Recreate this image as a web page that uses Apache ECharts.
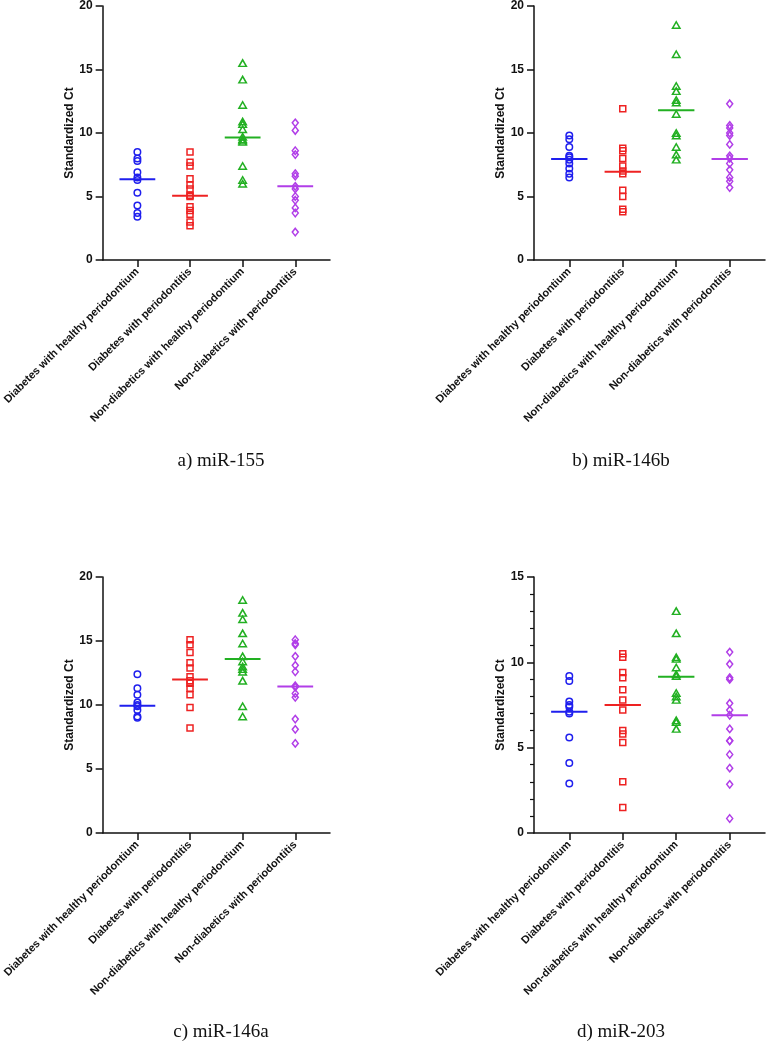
<!DOCTYPE html>
<html>
<head>
<meta charset="utf-8">
<script src="https://cdn.jsdelivr.net/npm/echarts@6/dist/echarts.min.js"></script>
<style>
html,body{margin:0;padding:0;background:#fff;}
#chart{width:767px;height:1044px;}
</style>
</head>
<body>
<div id="chart"></div>
<script>
// Categories
const categories = [
  'Diabetes with healthy periodontium',
  'Diabetes with periodontitis',
  'Non-diabetics with healthy periodontium',
  'Non-diabetics with periodontitis'
];
const panelTitles = ['a) miR-155', 'b) miR-146b', 'c) miR-146a', 'd) miR-203'];
const yTickMax = [20, 20, 20, 15];

// a) miR-155
const a_diabHealthy = [8.5, 8.0, 7.8, 6.9, 6.5, 6.3, 5.3, 4.3, 3.7, 3.4];
const a_diabPerio   = [8.5, 7.7, 7.4, 6.4, 5.9, 5.6, 5.1, 5.0, 4.2, 3.9, 3.6, 3.0, 2.7];
const a_nonHealthy  = [15.5, 14.2, 12.2, 10.9, 10.7, 10.3, 9.7, 9.5, 9.4, 9.3, 7.4, 6.3, 6.0];
const a_nonPerio    = [10.8, 10.2, 8.6, 8.3, 6.8, 6.6, 5.8, 5.6, 5.0, 4.7, 4.1, 3.7, 2.2];
const a_medians     = [6.35, 5.05, 9.65, 5.8];

// b) miR-146b
const b_diabHealthy = [9.8, 9.5, 8.9, 8.2, 8.1, 7.9, 7.6, 7.2, 6.8, 6.5];
const b_diabPerio   = [11.9, 8.8, 8.6, 8.0, 7.4, 7.0, 6.8, 5.5, 5.0, 4.0, 3.8];
const b_nonHealthy  = [18.5, 16.2, 13.7, 13.3, 12.6, 12.4, 11.5, 10.0, 9.8, 8.9, 8.3, 7.9];
const b_nonPerio    = [12.3, 10.6, 10.4, 10.0, 9.8, 9.1, 8.2, 8.0, 7.6, 7.1, 6.5, 6.2, 5.7];
const b_medians     = [7.95, 6.95, 11.8, 7.95];

// c) miR-146a
const c_diabHealthy = [12.4, 11.3, 10.8, 10.2, 10.0, 9.9, 9.6, 9.1, 9.0];
const c_diabPerio   = [15.1, 14.7, 14.1, 13.3, 12.9, 12.2, 11.9, 11.7, 11.3, 10.8, 9.8, 8.2];
const c_nonHealthy  = [18.2, 17.2, 16.7, 15.6, 14.8, 13.8, 13.4, 13.0, 12.8, 12.6, 11.9, 9.9, 9.1];
const c_nonPerio    = [15.1, 14.8, 14.7, 13.8, 13.1, 12.6, 11.5, 11.4, 10.9, 10.6, 8.9, 8.1, 7.0];
const c_medians     = [9.95, 12.0, 13.6, 11.45];

// d) miR-203
const d_diabHealthy = [9.2, 8.9, 7.7, 7.5, 7.4, 7.1, 7.0, 5.6, 4.1, 2.9];
const d_diabPerio   = [10.5, 10.3, 9.4, 9.1, 8.4, 7.8, 7.2, 6.0, 5.8, 5.3, 3.0, 1.5];
const d_nonHealthy  = [13.0, 11.7, 10.3, 10.2, 9.7, 9.3, 9.2, 8.2, 8.0, 7.8, 6.6, 6.5, 6.1];
const d_nonPerio    = [10.6, 9.9, 9.1, 9.0, 7.6, 7.2, 6.9, 6.1, 5.4, 5.4, 4.6, 3.8, 2.85, 0.85];
const d_medians     = [7.1, 7.5, 9.15, 6.9];

const panels = [
  { groups: [a_diabHealthy, a_diabPerio, a_nonHealthy, a_nonPerio], medians: a_medians },
  { groups: [b_diabHealthy, b_diabPerio, b_nonHealthy, b_nonPerio], medians: b_medians },
  { groups: [c_diabHealthy, c_diabPerio, c_nonHealthy, c_nonPerio], medians: c_medians },
  { groups: [d_diabHealthy, d_diabPerio, d_nonHealthy, d_nonPerio], medians: d_medians }
];

const colors = ['#1f1fee', '#ee2222', '#22b022', '#b13ee8'];
const symbols = ['circle', 'rect', 'triangle', 'diamond'];
const symbolSizes = [6.5, 6, [7.5, 6.5], [6, 7.5]];

const gridPos = [
  { left: 99, top: 5, width: 231, height: 255 },
  { left: 534, top: 5, width: 231, height: 255 },
  { left: 99, top: 577, width: 231, height: 256 },
  { left: 534, top: 577, width: 231, height: 256 }
];
const titlePos = [[221, 461], [621, 461], [221, 1032], [621, 1032]];

const axisFont = { fontFamily: 'Liberation Sans', fontWeight: 'bold', color: '#111' };
const axisLineStyle = { color: '#111', width: 1.5 };

const grid = [], xAxis = [], yAxis = [], series = [], graphic = [];

panels.forEach((p, pi) => {
  grid.push(Object.assign({}, gridPos[pi]));
  xAxis.push({
    type: 'value', gridIndex: pi, min: -0.66, max: 3.66,
    splitLine: { show: false },
    axisLine: { show: true, onZero: false, lineStyle: axisLineStyle },
    axisTick: { show: true, length: 7, lineStyle: axisLineStyle, customValues: [0, 1, 2, 3] },
    axisLabel: Object.assign({
      show: true, rotate: 45, fontSize: 11, margin: 10,
      customValues: [0, 1, 2, 3],
      formatter: v => categories[Math.round(v)] || ''
    }, axisFont)
  });
  yAxis.push({
    type: 'value', gridIndex: pi, min: 0, max: yTickMax[pi], interval: 5,
    name: 'Standardized Ct', nameLocation: 'middle', nameGap: 25,
    nameTextStyle: { fontFamily: 'Liberation Sans', fontWeight: 'bold', fontSize: 12, color: '#111' },
    splitLine: { show: false },
    axisLine: { show: true, onZero: false, lineStyle: axisLineStyle },
    axisTick: { show: true, length: 7, lineStyle: axisLineStyle },
    minorTick: { show: pi === 3, splitNumber: 5, length: 4, lineStyle: { color: '#111', width: 1.2 } },
    minorSplitLine: { show: false },
    axisLabel: Object.assign({ fontSize: 12, margin: 10 }, axisFont)
  });
  p.groups.forEach((vals, gi) => {
    series.push({
      type: 'scatter', xAxisIndex: pi, yAxisIndex: pi,
      data: vals.map(v => [gi, v]),
      symbol: symbols[gi], symbolSize: symbolSizes[gi],
      itemStyle: { color: 'rgba(255,255,255,0)', borderColor: colors[gi], borderWidth: 1.5, opacity: 1 },
      emphasis: { disabled: true },
      silent: true, z: 2
    });
  });
  series.push({
    type: 'custom', xAxisIndex: pi, yAxisIndex: pi,
    data: p.medians.map((m, i) => [i, m]),
    renderItem: (params, api) => {
      const i = api.value(0), m = api.value(1);
      const c0 = api.coord([i - 0.34, m]);
      const c1 = api.coord([i + 0.34, m]);
      return {
        type: 'line',
        shape: { x1: c0[0], y1: c0[1], x2: c1[0], y2: c1[1] },
        style: { stroke: colors[params.dataIndex], lineWidth: 2 }
      };
    },
    silent: true, z: 3
  });
  graphic.push({
    type: 'text', x: titlePos[pi][0], y: titlePos[pi][1],
    style: {
      text: panelTitles[pi], fontFamily: 'Liberation Serif', fontSize: 19,
      fill: '#111', align: 'center', verticalAlign: 'middle'
    }
  });
});

const chart = echarts.init(document.getElementById('chart'), null, { renderer: 'canvas' });
chart.setOption({
  animation: false,
  backgroundColor: '#fff',
  grid, xAxis, yAxis, series, graphic
});
</script>
</body>
</html>
